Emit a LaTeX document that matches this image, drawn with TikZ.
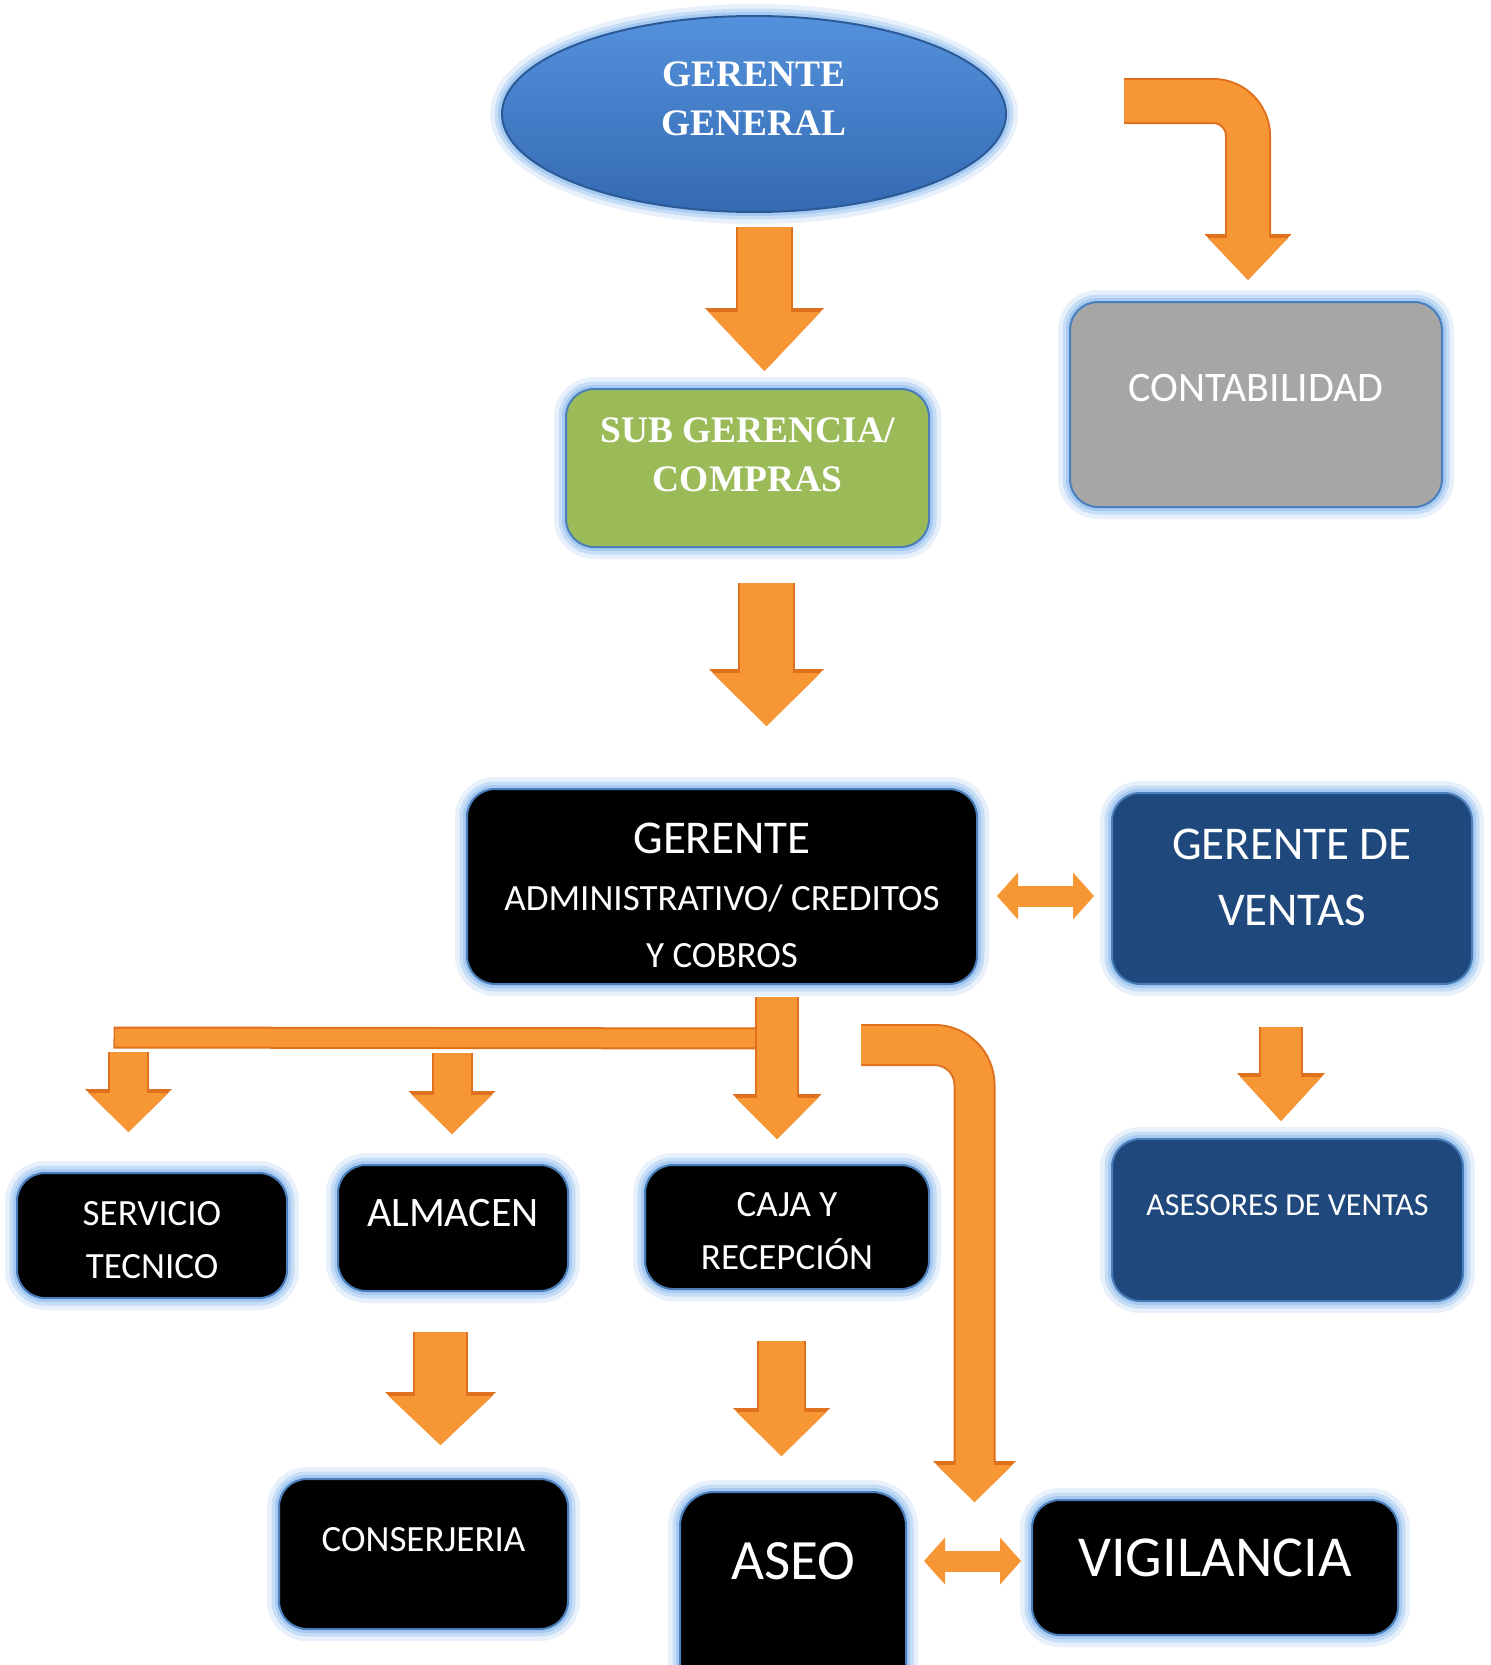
\documentclass[tikz,border=0pt]{standalone}
\usepackage{fontspec}
\setmainfont{Carlito}
\newfontfamily\titlefont{Liberation Serif}
\usetikzlibrary{shapes.geometric,arrows.meta,calc}

\definecolor{glowblue}{RGB}{160,198,242}
\definecolor{edgeblue}{RGB}{74,126,187}
\definecolor{ggtop}{RGB}{84,145,220}
\definecolor{ggbot}{RGB}{52,106,178}
\definecolor{subgreen}{RGB}{155,187,89}
\definecolor{contgrey}{RGB}{166,166,166}
\definecolor{ventblue}{RGB}{31,73,125}
\definecolor{arroworange}{RGB}{247,150,52}
\definecolor{arrowdark}{RGB}{222,112,30}

\tikzset{glow/.style={preaction={draw=glowblue,line width=24pt,draw opacity=.25},
        preaction={draw=glowblue,line width=15pt,draw opacity=.45},
        preaction={draw=glowblue,line width=8pt,draw opacity=.8}},
    box/.style={glow,rectangle,rounded corners=28pt,draw=edgeblue,line width=2pt,inner sep=0pt},
    dims/.style 2 args={minimum width=#1pt,minimum height=#2pt},
    lbl/.style={text=white,align=center,inner sep=0pt},
    titletxt/.style={lbl,font=\titlefont\bfseries\fontsize{37.4}{49}\selectfont},
    pipe/.code n args={3}{%
        \pgfmathsetmacro\pipew{#1+4}\pgfmathsetmacro\headw{#2+7}\pgfmathsetmacro\headl{#3+4}%
        \tikzset{preaction={draw=arrowdark,line width=\pipew pt,
            -{Triangle[width=\headw pt,length=\headl pt,line width=0pt]}},
            draw=arroworange,line width=#1pt,
            -{Triangle[width=#2pt,length=#3pt,line width=0pt]}}},
    twoway/.style n args={3}{draw=arroworange,line width=#1pt,
        {Triangle[width=#2pt,length=#3pt,line width=0pt]}-{Triangle[width=#2pt,length=#3pt,line width=0pt]}},
    }

\begin{document}
\begin{tikzpicture}[x=1pt,y=-1pt]
	\fill[white] (0,0) rectangle (1491,1665);
	\useasboundingbox (0,0) rectangle (1491,1665);
	% top
	\node[ellipse,glow,draw=ggbot!85!black,line width=2pt,top color=ggtop,bottom color=ggbot,
		dims={504}{196},inner sep=0pt,
		label={[titletxt,yshift=15.5pt]center:{GERENTE\\GENERAL}}] (gg) at (754,114) {};
	\node[box,fill=subgreen,dims={363}{158},
		label={[titletxt,yshift=13.5pt]center:{SUB GERENCIA/\\COMPRAS}}] (sub) at (747.5,468) {};
	\node[box,fill=contgrey,dims={372}{205},
		label={[lbl,font=\fontsize{42}{50}\selectfont,yshift=16.5pt]center:CONTABILIDAD}] (cont) at (1256,404.5) {};
	% middle
	\node[box,fill=black,dims={510}{195},
		label={[lbl,font=\fontsize{37}{57}\selectfont,yshift=-9pt]center:{{\fontsize{47}{57}\selectfont GERENTE}\\ADMINISTRATIVO/ CREDITOS\\Y COBROS}}] (ga) at (722,886.5) {};
	\node[box,fill=ventblue,dims={360}{191},
		label={[lbl,font=\fontsize{47}{66}\selectfont,yshift=11.5pt]center:{GERENTE DE\\VENTAS}}] (gv) at (1292,888.5) {};
	\node[box,fill=ventblue,dims={351}{162},
		label={[lbl,font=\fontsize{32}{40}\selectfont,yshift=15pt]center:ASESORES DE VENTAS}] (ase) at (1287.5,1220) {};
	% lower rows
	\node[box,fill=black,dims={270}{125},
		label={[lbl,font=\fontsize{37}{53}\selectfont,yshift=-5pt]center:{SERVICIO\\TECNICO}}] (st) at (152,1235.5) {};
	\node[box,fill=black,dims={230}{126},
		label={[lbl,font=\fontsize{42}{50}\selectfont,yshift=15pt]center:ALMACEN}] (alm) at (453,1228) {};
	\node[box,fill=black,dims={284}{124},
		label={[lbl,font=\fontsize{37}{53}\selectfont,yshift=-4.5pt]center:{CAJA Y\\RECEPCIÓN}}] (caja) at (787,1227) {};
	\node[box,fill=black,dims={289}{150},
		label={[lbl,font=\fontsize{37}{45}\selectfont,yshift=14pt]center:CONSERJERIA}] (cons) at (423.5,1554) {};
	\node[box,fill=black,rounded corners=34pt,dims={226}{208},
		label={[lbl,font=\fontsize{57}{65}\selectfont,yshift=35pt]center:ASEO}] (aseo) at (793,1596) {};
	\node[box,fill=black,dims={366}{135},
		label={[lbl,font=\fontsize{58}{66}\selectfont,yshift=9.5pt]center:VIGILANCIA}] (vig) at (1215,1567.5) {};

	% arrows
	\draw[pipe={53}{112}{59}] ($(gg.south)+(10.5,14)$) -- ($(sub.north)+(17,-17)$);
	\draw[pipe={53}{108}{53}] ($(sub.south)+(19,35)$) -- ($(ga.north)+(44.5,-62)$);
	\coordinate (cstart) at (1124,101);
	\draw[pipe={42}{80}{42},rounded corners=35pt] (cstart) -| ($(cont.north)+(-8,-21)$);
	\draw[twoway={21}{47}{21}] ($(ga.east)+(19,9.5)$) -- ($(gv.west)+(-17,7.5)$);
	\draw[pipe={40}{81}{44}] ($(gv.south)+(-11,42)$) -- ($(ase.north)+(-6.5,-17)$);
	% branch below ga
	\coordinate (barL) at (115,1037.5);
	\draw[arrowdark,line width=22pt] ($(ga.south)+(55,53.5)$) -- ([xshift=-1.5pt]barL);
	\draw[arroworange,line width=18pt] ($(ga.south)+(55,53.5)$) -- (barL);
	\draw[pipe={40}{82}{41}] ($(ga.south)+(55,12)$) -- ($(caja.north)+(-10,-25)$);
	\draw[pipe={37}{80}{39}] ($(st.north)+(-23.5,-120)$) -- ($(st.north)+(-23.5,-40)$);
	\draw[pipe={37}{80}{39}] ($(alm.north)+(-1,-111)$) -- ($(alm.north)+(-1,-30)$);
	\coordinate (vstart) at (861,1045);
	\coordinate (vend) at ($(vig.north west)+(-56.5,3)$);
	\draw[pipe={38}{76}{37},rounded corners=40pt] (vstart) -| (vend);
	\draw[pipe={51}{104}{49}] ($(alm.south)+(-12.5,40)$) -- ($(cons.north)+(17,-33)$);
	\draw[pipe={45}{90}{44}] ($(caja.south)+(-5.5,51)$) -- ($(aseo.north)+(-11.5,-35)$);
	\draw[twoway={21}{47}{21}] ($(aseo.east)+(17,-35)$) -- ($(vig.west)+(-10,-6.5)$);
\end{tikzpicture}
\end{document}
